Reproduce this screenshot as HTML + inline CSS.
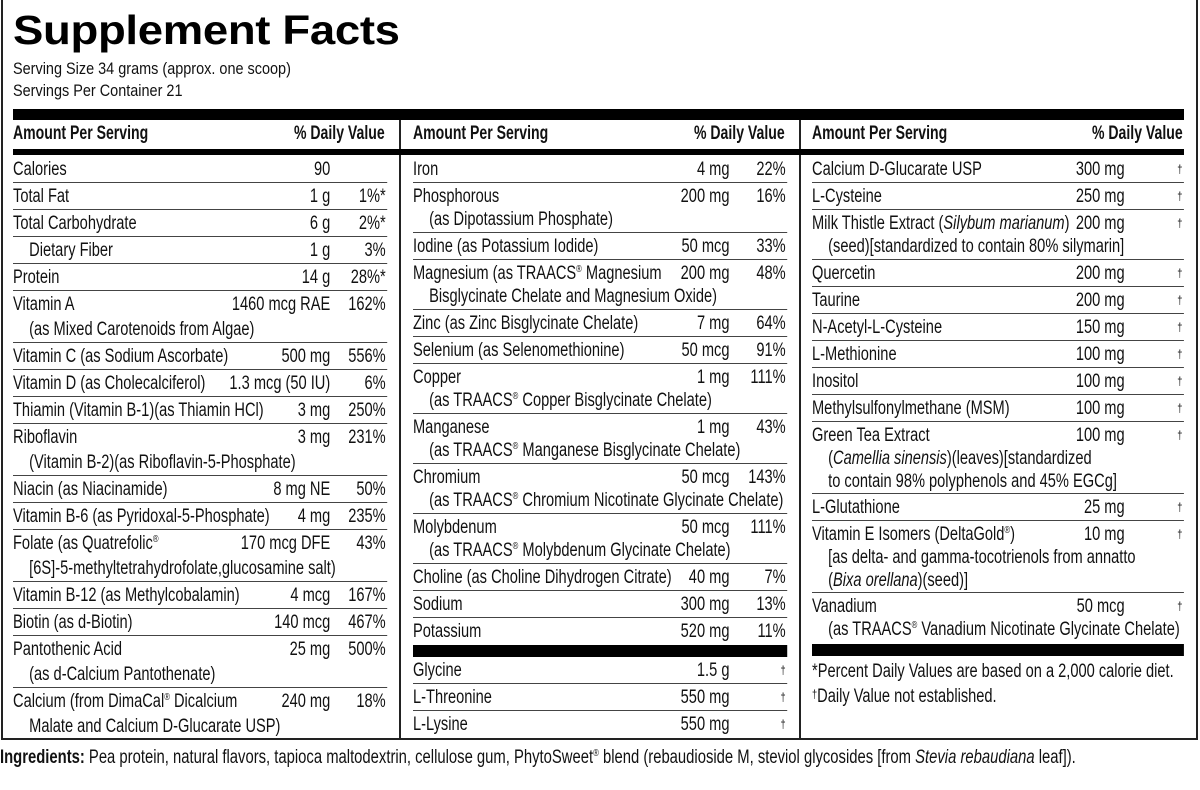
<!DOCTYPE html>
<html><head><meta charset="utf-8">
<style>
*{margin:0;padding:0;box-sizing:border-box}
body{width:1200px;height:790px;background:#fff;position:relative;overflow:hidden;font-family:"Liberation Sans",sans-serif;color:#111;font-size:19px}
.abs{position:absolute}
h1{position:absolute;left:13px;top:7px;font-weight:bold;font-size:41px;letter-spacing:-0.3px;color:#000;transform:scaleX(1.11);transform-origin:0 0;white-space:nowrap}
.sv{position:absolute;left:13px;font-size:17px;transform:scaleX(0.85);transform-origin:0 0;white-space:nowrap}
.col{position:absolute;top:156px;transform:scaleX(0.77);transform-origin:0 0}
.row{position:relative;border-bottom:1px solid #444;padding-top:2px;line-height:23px;white-space:nowrap}
.c1 .row{line-height:25px;padding-top:1px}
.amt{position:absolute;top:2px;text-align:right}
.c1 .amt{top:1px}
.dv{position:absolute;right:2px;top:2px;text-align:right}
.c1 .dv{top:1px}
.ind{padding-left:21px}
.bar{position:absolute;background:#000}
.hd{position:absolute;top:123px;font-weight:bold;font-size:19px;transform:scaleX(0.74);transform-origin:0 0;white-space:nowrap}
sup{font-size:10px;vertical-align:7px;line-height:0}
.dg{font-size:12px;vertical-align:4px}
</style></head><body>
<div class="abs" style="left:1px;top:0;width:1197px;height:740px;border:2px solid #222;border-top:none"></div>
<div class="abs" style="left:399px;top:109px;width:2px;height:630px;background:#222"></div>
<div class="abs" style="left:799px;top:109px;width:2px;height:630px;background:#222"></div>

<h1>Supplement Facts</h1>
<div class="sv" style="top:59px">Serving Size 34 grams (approx. one scoop)</div>
<div class="sv" style="top:81px">Servings Per Container 21</div>

<div class="bar" style="left:13px;top:109px;width:1171px;height:11px"></div>
<div class="bar" style="left:13px;top:149px;width:1171px;height:6px"></div>

<div class="hd" style="left:13px">Amount Per Serving</div>
<div class="hd" style="left:294px">% Daily Value</div>
<div class="hd" style="left:413px">Amount Per Serving</div>
<div class="hd" style="left:694px">% Daily Value</div>
<div class="hd" style="left:812px">Amount Per Serving</div>
<div class="hd" style="left:1092px">% Daily Value</div>

<div class="col c1" style="left:13px;width:486px">
<div class="row" style="height:27px">Calories<span class="amt" style="right:74px">90</span></div>
<div class="row" style="height:27px">Total Fat<span class="amt" style="right:74px">1 g</span><span class="dv">1%*</span></div>
<div class="row" style="height:27px">Total Carbohydrate<span class="amt" style="right:74px">6 g</span><span class="dv">2%*</span></div>
<div class="row" style="height:27px"><span class="ind">Dietary Fiber</span><span class="amt" style="right:74px">1 g</span><span class="dv">3%</span></div>
<div class="row" style="height:27px">Protein<span class="amt" style="right:74px">14 g</span><span class="dv">28%*</span></div>
<div class="row" style="height:52px">Vitamin A<br><span class="ind">(as Mixed Carotenoids from Algae)</span><span class="amt" style="right:74px">1460 mcg RAE</span><span class="dv">162%</span></div>
<div class="row" style="height:27px">Vitamin C (as Sodium Ascorbate)<span class="amt" style="right:74px">500 mg</span><span class="dv">556%</span></div>
<div class="row" style="height:27px">Vitamin D (as Cholecalciferol)<span class="amt" style="right:74px">1.3 mcg (50 IU)</span><span class="dv">6%</span></div>
<div class="row" style="height:27px">Thiamin (Vitamin B-1)(as Thiamin HCl)<span class="amt" style="right:74px">3 mg</span><span class="dv">250%</span></div>
<div class="row" style="height:52px">Riboflavin<br><span class="ind">(Vitamin B-2)(as Riboflavin-5-Phosphate)</span><span class="amt" style="right:74px">3 mg</span><span class="dv">231%</span></div>
<div class="row" style="height:27px">Niacin (as Niacinamide)<span class="amt" style="right:74px">8 mg NE</span><span class="dv">50%</span></div>
<div class="row" style="height:27px">Vitamin B-6 (as Pyridoxal-5-Phosphate)<span class="amt" style="right:74px">4 mg</span><span class="dv">235%</span></div>
<div class="row" style="height:52px">Folate (as Quatrefolic<sup>®</sup><br><span class="ind">[6S]-5-methyltetrahydrofolate,glucosamine salt)</span><span class="amt" style="right:74px">170 mcg DFE</span><span class="dv">43%</span></div>
<div class="row" style="height:27px">Vitamin B-12 (as Methylcobalamin)<span class="amt" style="right:74px">4 mcg</span><span class="dv">167%</span></div>
<div class="row" style="height:27px">Biotin (as d-Biotin)<span class="amt" style="right:74px">140 mcg</span><span class="dv">467%</span></div>
<div class="row" style="height:52px">Pantothenic Acid<br><span class="ind">(as d-Calcium Pantothenate)</span><span class="amt" style="right:74px">25 mg</span><span class="dv">500%</span></div>
<div class="row" style="height:51px;border-bottom:none">Calcium (from DimaCal<sup>®</sup> Dicalcium<br><span class="ind">Malate and Calcium D-Glucarate USP)</span><span class="amt" style="right:74px">240 mg</span><span class="dv">18%</span></div>
</div>

<div class="col c2" style="left:413px;width:486px">
<div class="row" style="height:27px">Iron<span class="amt" style="right:75px">4 mg</span><span class="dv">22%</span></div>
<div class="row" style="height:50px">Phosphorous<br><span class="ind">(as Dipotassium Phosphate)</span><span class="amt" style="right:75px">200 mg</span><span class="dv">16%</span></div>
<div class="row" style="height:27px">Iodine (as Potassium Iodide)<span class="amt" style="right:75px">50 mcg</span><span class="dv">33%</span></div>
<div class="row" style="height:50px">Magnesium (as TRAACS<sup>®</sup> Magnesium<br><span class="ind">Bisglycinate Chelate and Magnesium Oxide)</span><span class="amt" style="right:75px">200 mg</span><span class="dv">48%</span></div>
<div class="row" style="height:27px">Zinc (as Zinc Bisglycinate Chelate)<span class="amt" style="right:75px">7 mg</span><span class="dv">64%</span></div>
<div class="row" style="height:27px">Selenium (as Selenomethionine)<span class="amt" style="right:75px">50 mcg</span><span class="dv">91%</span></div>
<div class="row" style="height:50px">Copper<br><span class="ind">(as TRAACS<sup>®</sup> Copper Bisglycinate Chelate)</span><span class="amt" style="right:75px">1 mg</span><span class="dv">111%</span></div>
<div class="row" style="height:50px">Manganese<br><span class="ind">(as TRAACS<sup>®</sup> Manganese Bisglycinate Chelate)</span><span class="amt" style="right:75px">1 mg</span><span class="dv">43%</span></div>
<div class="row" style="height:50px">Chromium<br><span class="ind">(as TRAACS<sup>®</sup> Chromium Nicotinate Glycinate Chelate)</span><span class="amt" style="right:75px">50 mcg</span><span class="dv">143%</span></div>
<div class="row" style="height:50px">Molybdenum<br><span class="ind">(as TRAACS<sup>®</sup> Molybdenum Glycinate Chelate)</span><span class="amt" style="right:75px">50 mcg</span><span class="dv">111%</span></div>
<div class="row" style="height:27px">Choline (as Choline Dihydrogen Citrate)<span class="amt" style="right:75px">40 mg</span><span class="dv">7%</span></div>
<div class="row" style="height:27px">Sodium<span class="amt" style="right:75px">300 mg</span><span class="dv">13%</span></div>
<div class="row" style="height:27px;border-bottom:none">Potassium<span class="amt" style="right:75px">520 mg</span><span class="dv">11%</span></div>
<div style="height:12px;background:#000"></div>
<div class="row" style="height:27px">Glycine<span class="amt" style="right:75px">1.5 g</span><span class="dv"><span class="dg">†</span></span></div>
<div class="row" style="height:27px">L-Threonine<span class="amt" style="right:75px">550 mg</span><span class="dv"><span class="dg">†</span></span></div>
<div class="row" style="height:27px;border-bottom:none">L-Lysine<span class="amt" style="right:75px">550 mg</span><span class="dv"><span class="dg">†</span></span></div>
</div>

<div class="col c3" style="left:812px;width:483px">
<div class="row" style="height:27px">Calcium D-Glucarate USP<span class="amt" style="right:77px">300 mg</span><span class="dv"><span class="dg">†</span></span></div>
<div class="row" style="height:27px">L-Cysteine<span class="amt" style="right:77px">250 mg</span><span class="dv"><span class="dg">†</span></span></div>
<div class="row" style="height:50px">Milk Thistle Extract (<i>Silybum marianum</i>)<br><span class="ind">(seed)[standardized to contain 80% silymarin]</span><span class="amt" style="right:77px">200 mg</span><span class="dv"><span class="dg">†</span></span></div>
<div class="row" style="height:27px">Quercetin<span class="amt" style="right:77px">200 mg</span><span class="dv"><span class="dg">†</span></span></div>
<div class="row" style="height:27px">Taurine<span class="amt" style="right:77px">200 mg</span><span class="dv"><span class="dg">†</span></span></div>
<div class="row" style="height:27px">N-Acetyl-L-Cysteine<span class="amt" style="right:77px">150 mg</span><span class="dv"><span class="dg">†</span></span></div>
<div class="row" style="height:27px">L-Methionine<span class="amt" style="right:77px">100 mg</span><span class="dv"><span class="dg">†</span></span></div>
<div class="row" style="height:27px">Inositol<span class="amt" style="right:77px">100 mg</span><span class="dv"><span class="dg">†</span></span></div>
<div class="row" style="height:27px">Methylsulfonylmethane (MSM)<span class="amt" style="right:77px">100 mg</span><span class="dv"><span class="dg">†</span></span></div>
<div class="row" style="height:72px">Green Tea Extract<br><span class="ind">(<i>Camellia sinensis</i>)(leaves)[standardized</span><br><span class="ind">to contain 98% polyphenols and 45% EGCg]</span><span class="amt" style="right:77px">100 mg</span><span class="dv"><span class="dg">†</span></span></div>
<div class="row" style="height:27px">L-Glutathione<span class="amt" style="right:77px">25 mg</span><span class="dv"><span class="dg">†</span></span></div>
<div class="row" style="height:72px">Vitamin E Isomers (DeltaGold<sup>®</sup>)<br><span class="ind">[as delta- and gamma-tocotrienols from annatto</span><br><span class="ind">(<i>Bixa orellana</i>)(seed)]</span><span class="amt" style="right:77px">10 mg</span><span class="dv"><span class="dg">†</span></span></div>
<div class="row" style="height:51px;border-bottom:none">Vanadium<br><span class="ind">(as TRAACS<sup>®</sup> Vanadium Nicotinate Glycinate Chelate)</span><span class="amt" style="right:77px">50 mcg</span><span class="dv"><span class="dg">†</span></span></div>
<div style="height:12px;background:#000"></div>
<div style="line-height:23px;padding-top:4px;white-space:nowrap">*Percent Daily Values are based on a 2,000 calorie diet.<br><span class="dg">†</span>Daily Value not established.</div>
</div>

<div class="abs" style="left:0;top:747px;font-size:19px;white-space:nowrap;transform:scaleX(0.78);transform-origin:0 0"><b>Ingredients:</b> Pea protein, natural flavors, tapioca maltodextrin, cellulose gum, PhytoSweet<sup>®</sup> blend (rebaudioside M, steviol glycosides [from <i>Stevia rebaudiana</i> leaf]).</div>
</body></html>
